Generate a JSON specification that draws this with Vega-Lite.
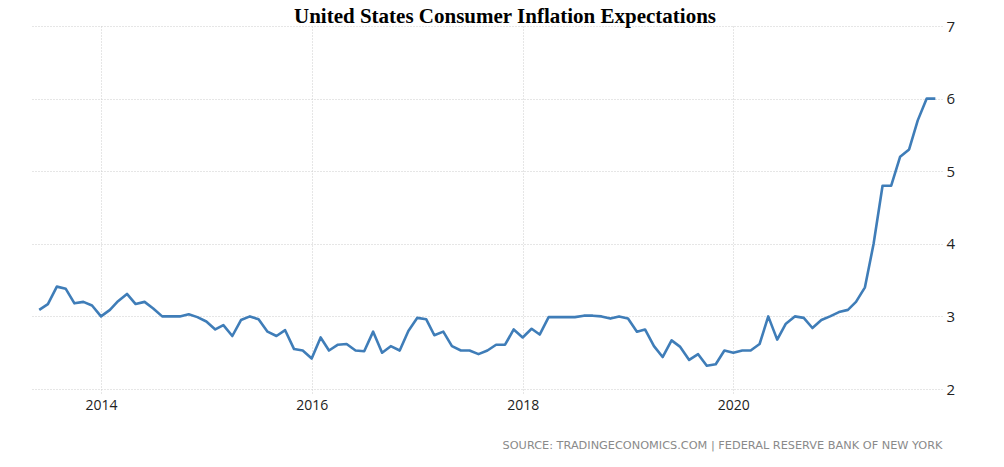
{
  "$schema": "https://vega.github.io/schema/vega-lite/v6.json",
  "autosize": "none",
  "width": 912,
  "height": 363,
  "padding": {"left": 30, "top": 26, "right": 62, "bottom": 78},
  "background": "white",
  "view": {"stroke": null},
  "title": {
    "text": "United States Consumer Inflation Expectations",
    "font": "Liberation Serif",
    "fontSize": 21,
    "fontWeight": "bold",
    "color": "#000000",
    "anchor": "middle",
    "frame": "group",
    "dx": 19,
    "dy": 13,
    "offset": 5
  },
  "data": {
    "values": [
      {"date": "2013-06-01", "value": 3.09}, {"date": "2013-07-01", "value": 3.17}, {"date": "2013-08-01", "value": 3.41},
      {"date": "2013-09-01", "value": 3.38}, {"date": "2013-10-01", "value": 3.18}, {"date": "2013-11-01", "value": 3.20},
      {"date": "2013-12-01", "value": 3.15},
      {"date": "2014-01-01", "value": 3.00}, {"date": "2014-02-01", "value": 3.09}, {"date": "2014-03-01", "value": 3.21},
      {"date": "2014-04-01", "value": 3.31}, {"date": "2014-05-01", "value": 3.17}, {"date": "2014-06-01", "value": 3.20},
      {"date": "2014-07-01", "value": 3.11}, {"date": "2014-08-01", "value": 3.00}, {"date": "2014-09-01", "value": 3.00},
      {"date": "2014-10-01", "value": 3.00}, {"date": "2014-11-01", "value": 3.03}, {"date": "2014-12-01", "value": 2.99},
      {"date": "2015-01-01", "value": 2.93}, {"date": "2015-02-01", "value": 2.82}, {"date": "2015-03-01", "value": 2.88},
      {"date": "2015-04-01", "value": 2.73}, {"date": "2015-05-01", "value": 2.95}, {"date": "2015-06-01", "value": 3.00},
      {"date": "2015-07-01", "value": 2.96}, {"date": "2015-08-01", "value": 2.79}, {"date": "2015-09-01", "value": 2.73},
      {"date": "2015-10-01", "value": 2.81}, {"date": "2015-11-01", "value": 2.55}, {"date": "2015-12-01", "value": 2.53},
      {"date": "2016-01-01", "value": 2.42}, {"date": "2016-02-01", "value": 2.71}, {"date": "2016-03-01", "value": 2.53},
      {"date": "2016-04-01", "value": 2.61}, {"date": "2016-05-01", "value": 2.62}, {"date": "2016-06-01", "value": 2.53},
      {"date": "2016-07-01", "value": 2.52}, {"date": "2016-08-01", "value": 2.79}, {"date": "2016-09-01", "value": 2.50},
      {"date": "2016-10-01", "value": 2.59}, {"date": "2016-11-01", "value": 2.53}, {"date": "2016-12-01", "value": 2.80},
      {"date": "2017-01-01", "value": 2.98}, {"date": "2017-02-01", "value": 2.96}, {"date": "2017-03-01", "value": 2.74},
      {"date": "2017-04-01", "value": 2.79}, {"date": "2017-05-01", "value": 2.59}, {"date": "2017-06-01", "value": 2.53},
      {"date": "2017-07-01", "value": 2.53}, {"date": "2017-08-01", "value": 2.48}, {"date": "2017-09-01", "value": 2.53},
      {"date": "2017-10-01", "value": 2.61}, {"date": "2017-11-01", "value": 2.61}, {"date": "2017-12-01", "value": 2.82},
      {"date": "2018-01-01", "value": 2.71}, {"date": "2018-02-01", "value": 2.83}, {"date": "2018-03-01", "value": 2.75},
      {"date": "2018-04-01", "value": 2.99}, {"date": "2018-05-01", "value": 2.99}, {"date": "2018-06-01", "value": 2.99},
      {"date": "2018-07-01", "value": 2.99}, {"date": "2018-08-01", "value": 3.01}, {"date": "2018-09-01", "value": 3.01},
      {"date": "2018-10-01", "value": 3.00}, {"date": "2018-11-01", "value": 2.97}, {"date": "2018-12-01", "value": 3.00},
      {"date": "2019-01-01", "value": 2.97}, {"date": "2019-02-01", "value": 2.79}, {"date": "2019-03-01", "value": 2.82},
      {"date": "2019-04-01", "value": 2.59}, {"date": "2019-05-01", "value": 2.44}, {"date": "2019-06-01", "value": 2.67},
      {"date": "2019-07-01", "value": 2.58}, {"date": "2019-08-01", "value": 2.40}, {"date": "2019-09-01", "value": 2.48},
      {"date": "2019-10-01", "value": 2.32}, {"date": "2019-11-01", "value": 2.34}, {"date": "2019-12-01", "value": 2.53},
      {"date": "2020-01-01", "value": 2.50}, {"date": "2020-02-01", "value": 2.53}, {"date": "2020-03-01", "value": 2.53},
      {"date": "2020-04-01", "value": 2.62}, {"date": "2020-05-01", "value": 3.00}, {"date": "2020-06-01", "value": 2.68},
      {"date": "2020-07-01", "value": 2.90}, {"date": "2020-08-01", "value": 3.00}, {"date": "2020-09-01", "value": 2.98},
      {"date": "2020-10-01", "value": 2.84}, {"date": "2020-11-01", "value": 2.95}, {"date": "2020-12-01", "value": 3.00},
      {"date": "2021-01-01", "value": 3.06}, {"date": "2021-02-01", "value": 3.09}, {"date": "2021-03-01", "value": 3.20},
      {"date": "2021-04-01", "value": 3.40}, {"date": "2021-05-01", "value": 4.00}, {"date": "2021-06-01", "value": 4.80},
      {"date": "2021-07-01", "value": 4.80}, {"date": "2021-08-01", "value": 5.20}, {"date": "2021-09-01", "value": 5.30},
      {"date": "2021-10-01", "value": 5.70}, {"date": "2021-11-01", "value": 6.00}, {"date": "2021-12-01", "value": 6.00}
    ],
    "format": {"parse": {"date": "date:'%Y-%m-%d'"}}
  },
  "mark": {"type": "line", "color": "#3f7db8", "strokeWidth": 2.6, "strokeJoin": "round"},
  "encoding": {
    "x": {
      "field": "date",
      "type": "temporal",
      "scale": {"domain": [{"year": 2013, "month": "apr", "date": 30}, {"year": 2021, "month": "dec", "date": 24}]},
      "axis": {
        "values": [{"year": 2014, "month": "jan", "date": 1}, {"year": 2016, "month": "jan", "date": 1}, {"year": 2018, "month": "jan", "date": 1}, {"year": 2020, "month": "jan", "date": 1}],
        "format": "%Y",
        "title": "SOURCE: TRADINGECONOMICS.COM  |  FEDERAL RESERVE BANK OF NEW YORK",
        "titleFont": "DejaVu Sans",
        "titleFontSize": 11.3,
        "titleFontWeight": "normal",
        "titleColor": "#8a8a8a",
        "titleAnchor": "end",
        "titleAlign": "right",
        "titlePadding": 27,
        "grid": true,
        "gridColor": "#cccccc",
        "gridDash": [1, 2],
        "gridWidth": 1,
        "domain": false,
        "ticks": true,
        "tickColor": "#cccccc",
        "tickDash": [1, 2],
        "tickSize": 5,
        "labelFont": "Open Sans",
        "labelFontSize": 14,
        "labelColor": "#222222",
        "labelPadding": 4
      }
    },
    "y": {
      "field": "value",
      "type": "quantitative",
      "scale": {"domain": [2, 7], "nice": false, "zero": false},
      "axis": {
        "orient": "right",
        "values": [2, 3, 4, 5, 6, 7],
        "title": null,
        "grid": true,
        "gridColor": "#cccccc",
        "gridDash": [1, 2],
        "gridWidth": 1,
        "domain": false,
        "ticks": false,
        "labelFont": "Open Sans",
        "labelFontSize": 15,
        "labelColor": "#222222",
        "labelPadding": 4
      }
    }
  }
}
